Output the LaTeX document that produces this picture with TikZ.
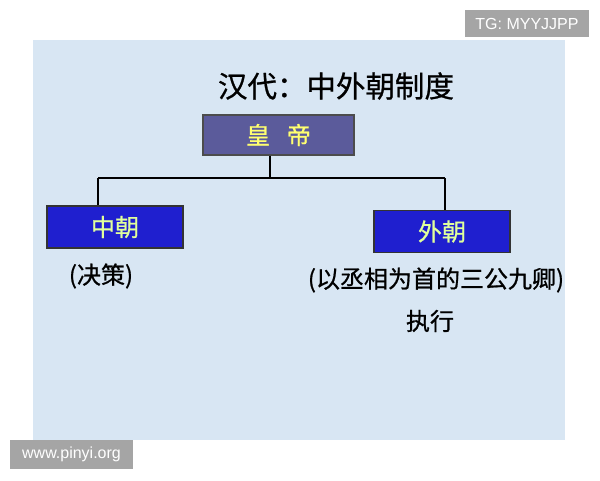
\documentclass[tikz,border=0pt]{standalone}
\usepackage{fontspec}
\setmainfont{Liberation Sans}
\newfontfamily\cjk[FakeBold=0.8]{Noto Sans CJK SC}
\definecolor{slide}{HTML}{D8E6F3}
\definecolor{emperor}{HTML}{5B5B9B}
\definecolor{court}{HTML}{1F1FCF}
\definecolor{gold}{HTML}{FFFF70}
\definecolor{mark}{HTML}{A5A5A5}
\tikzset{
  emperorbox/.style={draw=black!70, fill=emperor, minimum width=151pt, minimum height=40pt,
    text=gold, font=\cjk\fontsize{24}{26}\selectfont},
  courtbox/.style={draw=black!80, fill=court, minimum width=136pt, minimum height=42pt,
    text=gold!80!green!60!white, font=\cjk\fontsize{24}{26}\selectfont},
  note/.style={font=\cjk\fontsize{24}{28}\selectfont},
  markbox/.style={fill=mark, text=white, inner sep=0pt, font=\fontsize{16}{18}\selectfont}
}

\begin{document}
\begin{tikzpicture}[x=1pt, y=-1pt, line width=1.3pt]
    \useasboundingbox (0,0) rectangle (600,480);
    \fill[white] (0,0) rectangle (600,480);
    \fill[slide] (33,40) rectangle (565,440);
    \node (title) at (336,86) {\cjk\fontsize{29.5}{32}\selectfont 汉代：中外朝制度};
    \node[emperorbox] (hd) at (278.5,135) {皇\hspace{0.7em}帝};
    \node[courtbox] (zc) at (115,227) {中朝};
    \node[courtbox] (wc) at (442,231.5) {外朝};
    \coordinate (hub) at (270,178);
    \coordinate (L) at (98,178);
    \coordinate (R) at (445,178);
    \draw (hub |- hd.south) -- (hub);
    \draw (L) -- (R);
    \draw (L) -- (L |- zc.north);
    \draw (R) -- (R |- wc.north);
    \node[note] (jc) at (101,276) {(决策)};
    \node[note] (sg) at (436,280) {(以丞相为首的三公九卿)};
    \node[note] (zx) at (430,321) {执行};
    \node[markbox, minimum width=124pt, minimum height=27pt] (tg) at (527,23.5) {TG: MYYJJPP};
    \node[markbox, minimum width=123pt, minimum height=29pt] (www) at (71.5,454.5) {www.pinyi.org};
\end{tikzpicture}
\end{document}
